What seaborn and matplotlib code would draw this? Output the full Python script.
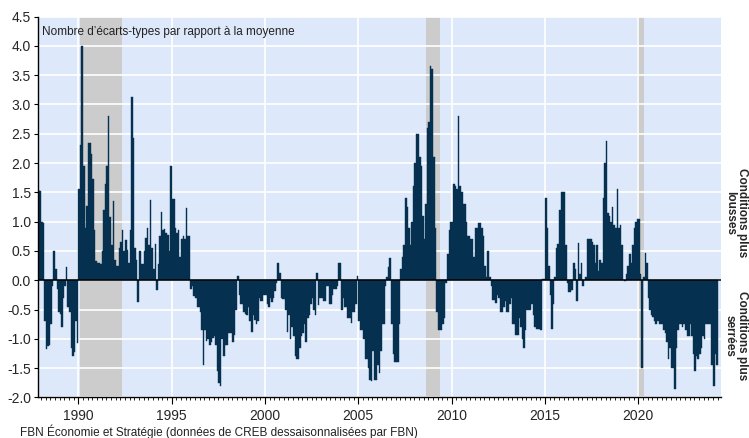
import numpy as np
import pandas as pd
import matplotlib
matplotlib.use("Agg")
import matplotlib.pyplot as plt
import seaborn as sns
from matplotlib.ticker import MultipleLocator, FormatStrFormatter

# monthly values, first month is Nov 1987
start_year, start_month = 1987, 11
v1987 = [1.54, 1.52]
v1988 = [0.99, 0.97, -0.7, -1.17, -1.12, -1.1, -0.75, -0.1, 0.5, 0.2, -0.15, -0.55]
v1989 = [-0.58, -0.8, -0.3, -0.1, 0.22, -0.45, -0.55, -1.15, -1.3, -1.22, -0.7, -1.07]
v1990 = [1.55, 2.3, 4.0, 1.95, 0.9, 1.27, 2.35, 2.35, 2.15, 1.72, 0.85, 0.33]
v1991 = [0.3, 0.3, 0.28, 0.5, 1.2, 1.65, 1.95, 2.8, 1.08, 0.6, 1.35, 0.35]
v1992 = [0.25, 0.25, 0.55, 0.65, 0.85, 0.5, 0.68, 0.52, 0.3, 0.85, 3.13, 2.43]
v1993 = [0.55, 0.35, -0.37, 0.5, 0.27, 0.27, 0.5, 0.72, 0.9, 0.6, 1.37, 0.55]
v1994 = [0.2, 0.62, -0.17, 0.27, 0.75, 1.17, 0.85, 0.87, 0.8, 0.78, 0.5, 1.95]
v1995 = [1.38, 1.38, 0.9, 0.8, 0.85, 0.4, 0.7, 0.75, 0.7, 1.23, 0.75, 0.75]
v1996 = [-0.15, -0.1, -0.27, -0.3, -0.45, -0.45, -0.55, -0.85, -1.45, -0.85, -1.03, -1.0]
v1997 = [-1.1, -1.05, -0.98, -0.95, -1.1, -1.55, -1.75, -1.8, -1.0, -1.3, -1.1, -1.1]
v1998 = [-0.9, -0.9, -0.9, -1.05, -0.93, -0.5, 0.07, -0.25, -0.4, -0.4, -0.55, -0.57]
v1999 = [-0.6, -0.45, -0.7, -0.88, -0.6, -0.68, -0.75, -0.7, -0.3, -0.35, -0.35, -0.25]
v2000 = [-0.25, -0.4, -0.45, -0.3, -0.37, -0.3, -0.18, -0.05, 0.3, 0.12, -0.3, -0.32]
v2001 = [-0.32, -0.5, -0.88, -0.6, -1.0, -0.8, -0.95, -1.3, -1.35, -1.35, -1.15, -0.95]
v2002 = [-0.9, -0.75, -1.05, -0.65, -0.6, -0.4, -0.3, -0.5, -0.6, 0.13, -0.42, -0.3]
v2003 = [-0.3, -0.35, -0.35, -0.1, -0.1, -0.4, -0.4, -0.25, -0.15, -0.15, -0.1, 0.3]
v2004 = [0.3, -0.5, -0.3, -0.45, -0.45, -0.65, -0.65, -0.73, -0.55, -0.55, -0.4, 0.08]
v2005 = [-0.7, -0.85, -0.85, -1.0, -1.35, -1.35, -1.5, -1.7, -1.72, -1.2, -1.7, -1.7]
v2006 = [-1.45, -1.58, -1.2, -0.75, -0.75, -0.1, 0.05, 0.22, 0.38, -0.75, -1.25, -1.4]
v2007 = [-1.4, -1.4, -0.75, 0.2, 0.4, 0.6, 1.4, 1.25, 0.9, 0.6, 1.0, 1.6]
v2008 = [2.0, 2.5, 2.5, 2.1, 1.95, 1.1, 0.7, 1.3, 2.6, 2.7, 3.65, 3.6]
v2009 = [2.1, 0.9, -0.55, -0.85, -0.85, -0.85, -0.75, -0.65, -0.05, 0.45, 0.85, 1.0]
v2010 = [1.0, 1.65, 1.6, 1.55, 2.8, 1.6, 1.5, 1.3, 1.3, 1.0, 0.75, 0.75]
v2011 = [0.7, 0.7, 0.4, 0.9, 0.9, 0.98, 0.98, 0.9, 0.75, 0.25, 0.05, 0.5]
v2012 = [0.05, -0.1, -0.33, -0.33, -0.38, -0.25, -0.3, -0.55, -0.55, -0.45, -0.35, -0.55]
v2013 = [-0.55, -0.4, -0.3, -0.75, -0.75, -0.93, -0.93, -0.65, -0.8, -1.0, -1.15, -0.85]
v2014 = [-0.5, -0.5, -0.5, -0.4, -0.6, -0.8, -0.83, -0.83, -0.83, -0.85, 0.02, 0.02]
v2015 = [1.4, 0.9, 0.25, -0.25, -0.83, -0.4, 0.05, 0.55, 0.62, 1.2, 1.5, 1.5]
v2016 = [1.5, 0.6, -0.05, -0.2, -0.2, -0.17, 0.3, 0.2, -0.35, 0.63, 0.1, 0.3]
v2017 = [-0.1, 0.0, 0.05, 0.7, 0.7, 0.7, 0.65, 0.6, 0.3, 0.6, 0.15, 0.35]
v2018 = [0.3, 1.4, 2.0, 2.38, 1.15, 1.1, 1.0, 1.25, 0.95, 0.9, 1.55, 0.9]
v2019 = [0.95, 0.6, 0.0, -0.02, 0.1, 0.25, 0.45, 0.3, 0.6, 0.9, 1.0, 1.05]
v2020 = [1.05, 0.1, -1.5, 0.05, 0.47, 0.3, -0.3, -0.5, -0.6, -0.63, -0.7, -0.75]
v2021 = [-0.7, -0.75, -0.75, -0.75, -0.85, -0.9, -1.05, -1.35, -1.15, -1.5, -1.5, -1.85]
v2022 = [-1.15, -0.85, -0.75, -0.75, -0.8, -0.75, -0.85, -0.95, -0.95, -0.75, -0.95, -1.25]
v2023 = [-1.55, -1.3, -1.35, -1.25, -1.15, -0.95, -1.0, -0.75, -0.75, -0.75, -0.75, -1.45]
v2024 = [-1.8, -1.25, -1.45]

# recessions (decimal years)
recessions = [(1990.09, 1992.33), (2008.63, 2009.40), (2019.95, 2020.33)]

values = (v1987 + v1988 + v1989 + v1990 + v1991 + v1992 + v1993 + v1994 + v1995
          + v1996 + v1997 + v1998 + v1999 + v2000 + v2001 + v2002 + v2003 + v2004
          + v2005 + v2006 + v2007 + v2008 + v2009 + v2010 + v2011 + v2012 + v2013
          + v2014 + v2015 + v2016 + v2017 + v2018 + v2019 + v2020 + v2021 + v2022
          + v2023 + v2024)
months = np.arange(len(values)) + (start_month - 1)
t = np.round(start_year + (months + 0.5) / 12, 4)
df = pd.DataFrame({"t": t, "v": values})

navy = "#05304f"
bg = "#dde9fb"

sns.set_theme(style="white")
plt.rcParams["font.family"] = ["Liberation Sans", "DejaVu Sans"]

fig = plt.figure(figsize=(7.49, 4.38), dpi=100)
ax = fig.add_axes([0.0507, 0.0925, 0.9119, 0.8698])
ax.set_facecolor(bg)

for a, b in recessions:
    ax.axvspan(a, b, color="#cccccc", lw=0, zorder=0.2)

sns.barplot(data=df, x="t", y="v", native_scale=True, width=1.0, color=navy,
            saturation=1, errorbar=None, edgecolor=navy, linewidth=0.3,
            ax=ax, zorder=2)

ax.axhline(0, color="black", lw=1.1, zorder=3)
ax.set_xlim(1987.84, 2024.43)
ax.set_ylim(-2.0, 4.5)
ax.set_xlabel("")
ax.set_ylabel("")

ax.xaxis.set_major_locator(MultipleLocator(5))
ax.xaxis.set_minor_locator(MultipleLocator(0.25))
ax.xaxis.set_major_formatter(FormatStrFormatter("%d"))
ax.yaxis.set_major_locator(MultipleLocator(0.5))
ax.yaxis.set_major_formatter(FormatStrFormatter("%.1f"))

ax.set_axisbelow(True)
ax.grid(True, which="major", color="white", lw=1.2)

for s in ["top", "right"]:
    ax.spines[s].set_visible(False)
for s in ["left", "bottom"]:
    ax.spines[s].set_color("black")
    ax.spines[s].set_linewidth(1.0)

ax.tick_params(axis="x", which="major", direction="out", length=5, width=0.8,
               color="black", labelsize=10, pad=3, bottom=True)
ax.tick_params(axis="x", which="minor", direction="out", length=2.5, width=0.6,
               color="black", bottom=True)
ax.tick_params(axis="y", which="major", direction="out", length=3, width=0.8,
               color="black", labelsize=10, pad=2, left=True)

ax.text(0.006, 0.975, "Nombre d’écarts-types par rapport à la moyenne",
        transform=ax.transAxes, ha="left", va="top", fontsize=8.5, color="#222222")

fig.text(20 / 749, 1 - 432 / 438, "FBN Économie et Stratégie (données de CREB dessaisonnalisées par FBN)",
         ha="left", va="center", fontsize=8.5, color="#222222")

fig.text(736 / 749, 1 - 213 / 438, "Conditions plus\nlousses", rotation=270,
         ha="center", va="center", fontsize=8.5, fontweight="bold",
         multialignment="center", linespacing=1.0)
fig.text(736 / 749, 1 - 336 / 438, "Conditions plus\nserrées", rotation=270,
         ha="center", va="center", fontsize=8.5, fontweight="bold",
         multialignment="center", linespacing=1.0)

fig.savefig("out.png", dpi=100)
